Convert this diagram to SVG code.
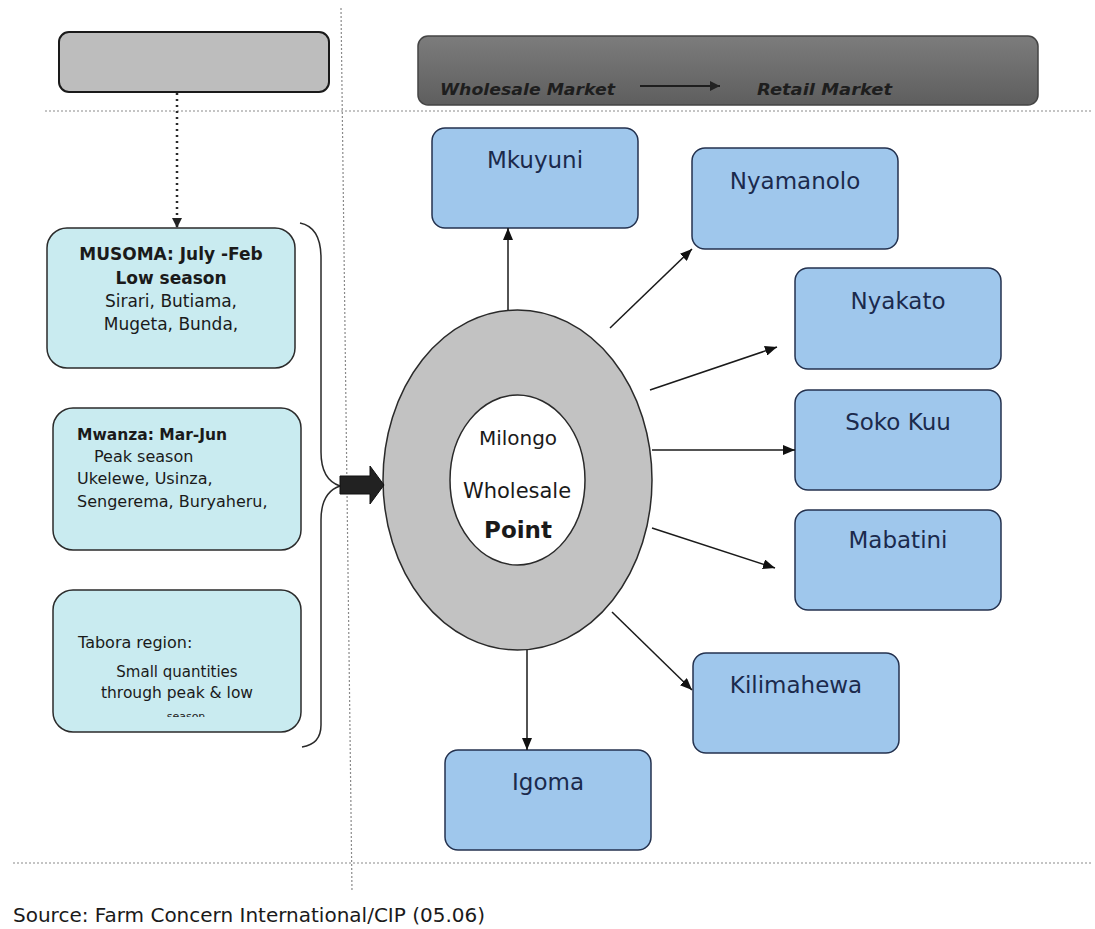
<svg xmlns="http://www.w3.org/2000/svg" width="1095" height="929" viewBox="0 0 1095 929">
  <style>
    .src { fill: #c9ebf0; stroke: #2b2b2b; stroke-width: 1.5; }
    .mkt { fill: #9fc7ec; stroke: #24324f; stroke-width: 1.5; }
    .mlab { font-family: "DejaVu Sans", Verdana, sans-serif; font-size: 23px; fill: #1b2a4c; text-anchor: middle; }
    .ltxt { font-family: "DejaVu Sans", Verdana, sans-serif; fill: #1a1a1a; }
    .con { stroke: #1a1a1a; stroke-width: 1.5; fill: none; marker-end: url(#ah); }
    .dot { stroke: #8a8a8a; stroke-width: 1.2; stroke-dasharray: 2 2; fill: none; }
    .ban { font-family: "DejaVu Sans", Verdana, sans-serif; font-size: 16px; font-weight: bold; font-style: italic; fill: #1e1e1e; }
  </style>
  <defs>
    <marker id="ah" markerUnits="userSpaceOnUse" markerWidth="12" markerHeight="10" refX="12" refY="5" orient="auto">
      <path d="M0,0 L12,5 L0,10 z" fill="#111"/>
    </marker>
    <marker id="ahd" markerUnits="userSpaceOnUse" markerWidth="10" markerHeight="10" refX="10" refY="5" orient="auto">
      <path d="M0,0 L10,5 L0,10 z" fill="#222"/>
    </marker>
    <linearGradient id="banG" x1="0" y1="0" x2="0" y2="1">
      <stop offset="0" stop-color="#7c7c7c"/>
      <stop offset="1" stop-color="#5e5e5e"/>
    </linearGradient>
    <clipPath id="tabClip">
      <rect x="53" y="590" width="247" height="127"/>
    </clipPath>
  </defs>

  <rect width="1095" height="929" fill="#ffffff"/>

  <!-- guide lines -->
  <g id="guides">
    <line class="dot" x1="45" y1="111" x2="1092" y2="111"/>
    <line class="dot" x1="13" y1="863" x2="1092" y2="863"/>
    <line class="dot" x1="341" y1="8" x2="352" y2="892" stroke="#b0b0b0"/>
  </g>

  <!-- header boxes -->
  <g id="header-left">
    <rect x="59" y="32" width="270" height="60" rx="10" fill="#bdbdbd" stroke="#1a1a1a" stroke-width="2"/>
  </g>
  <g id="header-right">
    <rect x="418" y="36" width="620" height="69" rx="10" fill="url(#banG)" stroke="#444" stroke-width="1.5"/>
    <text class="ban" x="440" y="95" textLength="175" lengthAdjust="spacingAndGlyphs">Wholesale Market</text>
    <line x1="640" y1="86" x2="720" y2="86" stroke="#1e1e1e" stroke-width="2" marker-end="url(#ahd)"/>
    <text class="ban" x="757" y="95" textLength="135" lengthAdjust="spacingAndGlyphs">Retail Market</text>
  </g>

  <!-- source nodes -->
  <g id="musoma">
    <rect class="src" x="47" y="228" width="248" height="140" rx="20"/>
    <text class="ltxt" x="171" y="260" font-size="17" font-weight="bold" text-anchor="middle">MUSOMA: July -Feb</text>
    <text class="ltxt" x="171" y="284" font-size="17" font-weight="bold" text-anchor="middle">Low season</text>
    <text class="ltxt" x="171" y="307" font-size="17" text-anchor="middle">Sirari, Butiama,</text>
    <text class="ltxt" x="171" y="330" font-size="17" text-anchor="middle">Mugeta, Bunda,</text>
  </g>
  <g id="mwanza">
    <rect class="src" x="53" y="408" width="248" height="142" rx="20"/>
    <text class="ltxt" x="77" y="440" font-size="15.5" font-weight="bold">Mwanza: Mar-Jun</text>
    <text class="ltxt" x="94" y="462" font-size="16">Peak season</text>
    <text class="ltxt" x="77" y="484" font-size="16">Ukelewe, Usinza,</text>
    <text class="ltxt" x="77" y="507" font-size="16">Sengerema, Buryaheru,</text>
  </g>
  <g id="tabora">
    <rect class="src" x="53" y="590" width="248" height="142" rx="20"/>
    <text class="ltxt" x="78" y="648" font-size="16">Tabora region:</text>
    <text class="ltxt" x="177" y="677" font-size="15" text-anchor="middle">Small quantities</text>
    <text class="ltxt" x="177" y="698" font-size="15.5" text-anchor="middle">through peak &amp; low</text>
    <text class="ltxt" x="186" y="720" font-size="11" text-anchor="middle" clip-path="url(#tabClip)">season</text>
  </g>

  <!-- central node -->
  <g id="milongo">
    <ellipse cx="517.5" cy="480" rx="134.5" ry="170" fill="#c2c2c2" stroke="#2a2a2a" stroke-width="1.5"/>
    <ellipse cx="517.5" cy="480" rx="67.5" ry="85" fill="#ffffff" stroke="#2a2a2a" stroke-width="1.5"/>
    <text class="ltxt" x="518" y="445" font-size="20" text-anchor="middle" fill="#222">Milongo</text>
    <text class="ltxt" x="517" y="498" font-size="21" text-anchor="middle" fill="#222">Wholesale</text>
    <text class="ltxt" x="518" y="538" font-size="23" font-weight="bold" text-anchor="middle" fill="#111">Point</text>
  </g>

  <!-- market nodes -->
  <g id="mkuyuni">
    <rect class="mkt" x="432" y="128" width="206" height="100" rx="13"/>
    <text class="mlab" x="535" y="168">Mkuyuni</text>
  </g>
  <g id="nyamanolo">
    <rect class="mkt" x="692" y="148" width="206" height="101" rx="13"/>
    <text class="mlab" x="795" y="189">Nyamanolo</text>
  </g>
  <g id="nyakato">
    <rect class="mkt" x="795" y="268" width="206" height="101" rx="13"/>
    <text class="mlab" x="898" y="309">Nyakato</text>
  </g>
  <g id="sokokuu">
    <rect class="mkt" x="795" y="390" width="206" height="100" rx="13"/>
    <text class="mlab" x="898" y="430">Soko Kuu</text>
  </g>
  <g id="mabatini">
    <rect class="mkt" x="795" y="510" width="206" height="100" rx="13"/>
    <text class="mlab" x="898" y="548">Mabatini</text>
  </g>
  <g id="kilimahewa">
    <rect class="mkt" x="693" y="653" width="206" height="100" rx="13"/>
    <text class="mlab" x="796" y="693">Kilimahewa</text>
  </g>
  <g id="igoma">
    <rect class="mkt" x="445" y="750" width="206" height="100" rx="13"/>
    <text class="mlab" x="548" y="790">Igoma</text>
  </g>

  <!-- connectors -->
  <g id="connectors">
    <line x1="177" y1="93" x2="177" y2="228" stroke="#2a2a2a" stroke-width="2.5" stroke-dasharray="2 4" marker-end="url(#ahd)"/>
    <path d="M300,223 C315,226 321,240 321,258 L321,452 C321,472 328,482 340,486 C328,490 321,500 321,520 L321,725 C321,738 315,745 302,747" fill="none" stroke="#2a2a2a" stroke-width="1.5"/>
    <path d="M340,476 L370,476 L370,466 L384,485 L370,504 L370,494 L340,494 z" fill="#222" stroke="#111" stroke-width="1"/>
    <line class="con" x1="508" y1="310" x2="508" y2="228"/>
    <line class="con" x1="610" y1="328" x2="692" y2="249"/>
    <line class="con" x1="650" y1="390" x2="777" y2="347"/>
    <line class="con" x1="652" y1="450" x2="795" y2="450"/>
    <line class="con" x1="652" y1="528" x2="775" y2="568"/>
    <line class="con" x1="612" y1="612" x2="692" y2="690"/>
    <line class="con" x1="527" y1="650" x2="527" y2="750"/>
  </g>

  <text class="ltxt" x="13" y="922" font-size="20" fill="#333">Source: Farm Concern International/CIP (05.06)</text>
</svg>
